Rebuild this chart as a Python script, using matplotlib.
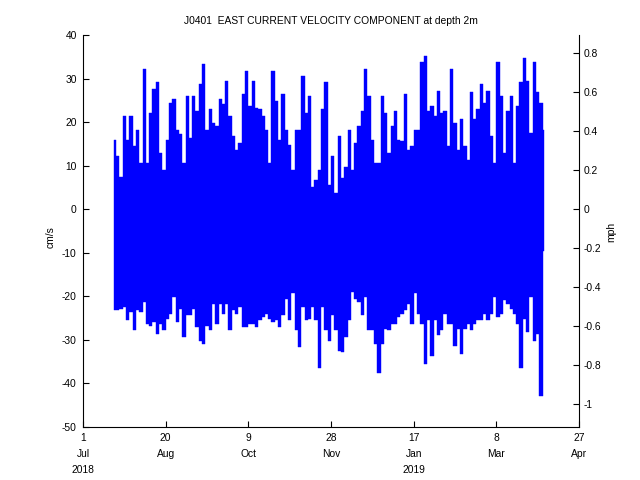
import matplotlib
matplotlib.use("Agg")

import matplotlib.pyplot as plt
import numpy as np
import pandas as pd

plt.rcParams["font.family"] = ["Liberation Sans", "DejaVu Sans"]
plt.rcParams["font.size"] = 7.4

# two-day envelope of the east current component (cm/s)
START = "2018-07-20"
STEP = "2D"

upper_cms = [
    16.0, 12.2, 7.5, 21.4, 16.0, 21.4, 14.5, 18.3, 10.6, 32.2,
    10.6, 22.2, 27.5, 29.1, 12.9, 9.1, 16.0, 24.5, 25.2, 18.3,
    17.2, 10.6, 26.0, 16.4, 26.0, 22.6, 28.7, 33.3, 18.3, 22.9,
    19.8, 19.1, 25.2, 24.1, 29.5, 21.4, 16.8, 13.7, 15.2, 26.4,
    31.8, 23.7, 29.5, 23.3, 22.9,
    21.4, 18.3, 10.6, 31.8, 24.8, 16.0, 26.4, 18.3, 14.8, 9.1,
    18.3, 18.3, 30.6, 22.2, 26.0, 5.2, 6.7, 9.1, 22.9, 29.1,
    5.5, 12.2, 3.7, 16.8, 7.1, 9.8, 18.3, 9.1, 15.2, 19.1,
    22.6, 32.2, 26.0, 16.0, 10.6, 10.6, 26.0, 22.2, 12.9, 19.1,
    22.6, 16.0, 15.6, 26.4, 13.7, 14.5, 18.3,
    18.3, 33.7, 35.2, 22.6, 23.8, 21.4, 27.2, 22.2, 22.5, 14.5,
    32.2, 19.8, 13.7, 20.6, 14.5, 11.4, 26.8, 20.6, 22.9, 28.7,
    24.5, 27.2, 16.8, 10.6, 33.7, 26.0, 12.9, 22.6, 26.0, 10.6,
    23.7, 29.1, 34.8, 29.5, 17.6, 33.7, 26.8, 24.5, 18.3,
]

lower_cms = [
    -23.2, -23.2, -22.8, -22.5, -25.5, -23.6, -27.8, -23.2, -23.6, -21.3,
    -26.3, -26.7, -25.9, -28.6, -26.3, -27.8, -25.2, -24.0, -20.2, -25.9,
    -22.8, -29.4, -24.4, -24.4, -22.8, -27.1, -30.2, -30.9, -26.7, -27.8,
    -21.8, -26.3, -21.8, -24.0, -21.8, -27.8, -23.2, -24.0, -22.5, -27.1,
    -27.1, -26.3, -26.3, -27.1, -25.5,
    -24.8, -24.0, -25.2, -25.9, -25.5, -27.1, -24.4, -20.5, -25.5, -19.2,
    -27.8, -31.7, -22.5, -25.5, -25.2, -22.5, -25.5, -36.5, -22.5, -27.8,
    -30.2, -24.4, -27.8, -32.5, -32.8, -29.4, -25.5, -19.0, -20.5, -21.3,
    -24.4, -20.2, -27.8, -27.8, -30.9, -37.5, -30.9, -27.5, -27.8, -26.3,
    -26.3, -24.8, -24.0, -23.2, -21.8, -26.3, -19.2,
    -24.0, -26.3, -35.5, -25.5, -33.6, -25.5, -28.9, -27.8, -24.0, -26.3,
    -26.3, -31.3, -27.5, -33.2, -27.5, -26.3, -27.8, -26.3, -25.5, -25.5,
    -24.0, -25.5, -24.0, -20.2, -24.8, -24.0, -20.9, -21.8, -22.8, -24.0,
    -26.3, -36.5, -25.2, -28.2, -20.2, -30.2, -28.6, -42.8, -9.6,
]

tick_dates = ["2018-07-01", "2018-08-20", "2018-10-09", "2018-11-28",
              "2019-01-17", "2019-03-08", "2019-04-27"]
tick_labels = ["1\nJul\n2018", "20\nAug", "9\nOct", "28\nNov",
               "17\nJan\n2019", "8\nMar", "27\nApr"]

cm_ticks = [-50, -40, -30, -20, -10, 0, 10, 20, 30, 40]
mph_ticks = [-1, -0.8, -0.6, -0.4, -0.2, 0, 0.2, 0.4, 0.6, 0.8]
CMS_TO_MPH = 0.0223694

times = pd.date_range(START, periods=len(upper_cms), freq=STEP)

fig = plt.figure(figsize=(6.4, 4.8), dpi=100)
ax = fig.add_axes([83 / 640, 1 - 427 / 480, 496 / 640, 392 / 480])
ax.fill_between(times, lower_cms, upper_cms, step="mid",
                color="#0000ff", linewidth=0.3)

ax.set_xlim(pd.Timestamp(tick_dates[0]), pd.Timestamp(tick_dates[-1]))
ax.set_xticks([pd.Timestamp(d) for d in tick_dates])
ax.set_xticklabels(tick_labels, linespacing=1.75)
ax.set_ylim(-50, 40)
ax.set_yticks(cm_ticks)
ax.set_yticklabels([str(v) for v in cm_ticks])
ax.tick_params(direction="in", length=4, width=0.8, pad=4.5)
for side in ("top", "right"):
    ax.spines[side].set_visible(False)
for side in ("left", "bottom"):
    ax.spines[side].set_linewidth(0.8)
ax.set_ylabel("cm/s")
ax.yaxis.set_label_coords(-0.055, 0.485)
ax.set_title("J0401  EAST CURRENT VELOCITY COMPONENT at depth 2m",
             fontsize=7.4, pad=8)

ax2 = ax.twinx()
ax2.set_ylim(-50 * CMS_TO_MPH, 40 * CMS_TO_MPH)
ax2.set_yticks(mph_ticks)
ax2.set_yticklabels([f"{v:g}" for v in mph_ticks])
ax2.tick_params(direction="in", length=4, width=0.8, pad=3)
for side in ("top", "left", "bottom"):
    ax2.spines[side].set_visible(False)
ax2.spines["right"].set_linewidth(0.8)
ax2.set_ylabel("mph")
ax2.yaxis.set_label_coords(1.054, 0.497)

fig.savefig("out.png", dpi=100)
